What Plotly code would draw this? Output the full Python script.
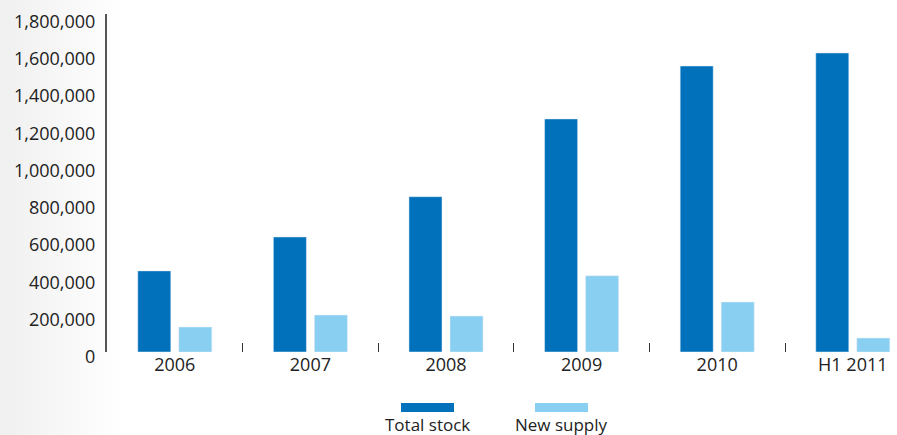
import plotly.graph_objects as go

categories = ["2006", "2007", "2008", "2009", "2010", "H1 2011"]
total_stock = [435000, 617000, 833000, 1250000, 1534000, 1604000]
new_supply = [134000, 198000, 193000, 409000, 268000, 75000]
series_names = ["Total stock", "New supply"]
y_ticks = [0, 200000, 400000, 600000, 800000, 1000000, 1200000, 1400000, 1600000, 1800000]

W, H = 897, 435
ML, MR, MT, MB = 107, 0, 14, 83
PW, PH = W - ML - MR, H - MT - MB

def px(x):
    return (x - ML) / PW

def py(y):
    return (H - MB - y) / PH

DARK = "#0071BA"
LIGHT = "#88CFF1"
FONT = "Open Sans"

fig = go.Figure()
fig.add_trace(go.Bar(x=categories, y=total_stock, name=series_names[0], marker_color=DARK))
fig.add_trace(go.Bar(x=categories, y=new_supply, name=series_names[1], marker_color=LIGHT))

shapes = []
# subtle left background gradient
n = 16
for i in range(n):
    x0 = i * 8
    x1 = x0 + 8
    v = int(0xF1 + (0xFF - 0xF1) * i / (n - 1))
    col = "#%02x%02x%02x" % (v, v, v)
    shapes.append(dict(type="rect", xref="paper", yref="paper", x0=px(x0), x1=px(x1),
                       y0=py(H), y1=py(0), fillcolor=col, line=dict(width=0), layer="below"))

annotations = []
legend_items = [(series_names[0], DARK, 401, 454), (series_names[1], LIGHT, 535, 588)]
for name, col, a, b in legend_items:
    shapes.append(dict(type="rect", xref="paper", yref="paper", x0=px(a), x1=px(b),
                       y0=py(412), y1=py(403), fillcolor=col, line=dict(width=0)))
    annotations.append(dict(text=name, xref="paper", yref="paper", x=px((a + b) / 2), y=py(425),
                            xanchor="center", yanchor="middle", showarrow=False,
                            font=dict(family=FONT, size=17, color="#222")))

fig.update_layout(
    width=W, height=H,
    margin=dict(l=ML, r=MR, t=MT, b=MB, pad=0, autoexpand=False),
    paper_bgcolor="white", plot_bgcolor="rgba(0,0,0,0)",
    barmode="group", bargap=0.395, bargroupgap=0.195,
    showlegend=False,
    font=dict(family=FONT, size=18, color="#222"),
    shapes=shapes, annotations=annotations,
)
fig.update_xaxes(
    type="category", range=[-0.5, -0.5 + PW / 135.6],
    showline=False, showgrid=False, zeroline=False,
    ticks="inside", tickson="boundaries", ticklen=9, tickwidth=1, tickcolor="#333",
    tickfont=dict(family=FONT, size=18, color="#222"),
    automargin=False,
)
fig.update_yaxes(
    range=[0, 1813000], tickvals=y_ticks, tickformat=",",
    showline=True, linecolor="#555", linewidth=2,
    showgrid=False, zeroline=False, ticks="",
    ticklabelshift=5, ticklabelstandoff=6,
    tickfont=dict(family=FONT, size=18, color="#222"),
    automargin=False,
)

fig.write_html("out.html", config={"displayModeBar": False},
               post_script="document.body.style.margin='0';document.body.style.padding='0';")
